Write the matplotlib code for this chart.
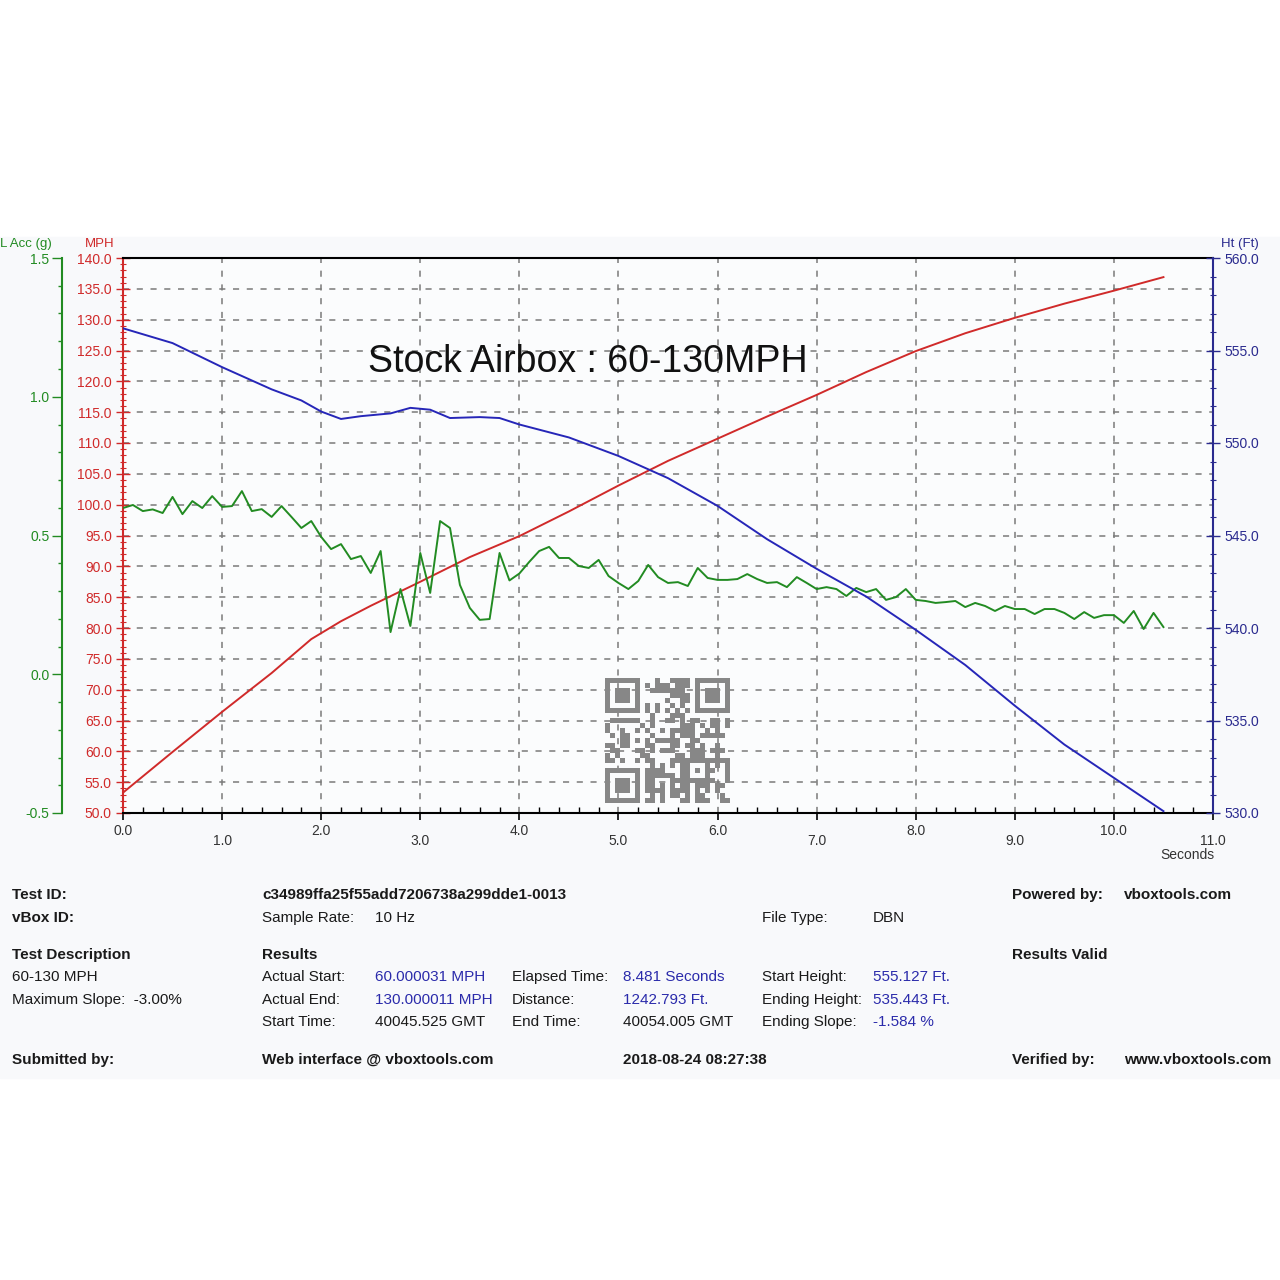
import hashlib
import numpy as np
import matplotlib
matplotlib.use('Agg')
import matplotlib.pyplot as plt
from matplotlib.patches import Rectangle
from matplotlib.ticker import MultipleLocator, FormatStrFormatter

plt.rcParams['font.family'] = ['Liberation Sans', 'DejaVu Sans']

# --- data ---
# speed (MPH)
mph_t = [0.0, 0.5, 1.0, 1.5, 1.9, 2.2, 2.5, 3.0, 3.5, 4.0, 4.5, 5.0, 5.5, 6.0, 6.5,
         7.0, 7.5, 8.0, 8.5, 9.0, 9.5, 10.0, 10.5]
mph = [53.3, 59.9, 66.4, 72.7, 78.2, 81.1, 83.6, 87.5, 91.5, 94.9, 98.9, 103.1, 107.1,
       110.7, 114.3, 117.8, 121.5, 124.9, 127.8, 130.3, 132.6, 134.7, 136.9]

# height (ft)
ht_t = [0.0, 0.5, 1.0, 1.5, 1.8, 2.0, 2.2, 2.4, 2.7, 2.9, 3.1, 3.3, 3.6, 3.8,
        4.0, 4.5, 5.0, 5.5, 6.0, 6.5, 7.0, 7.5, 8.0, 8.5, 9.0, 9.5, 10.0, 10.5]
ht = [556.2, 555.4, 554.1, 552.9, 552.3, 551.7, 551.3, 551.45, 551.6, 551.9,
      551.8, 551.35, 551.4, 551.35, 551.0, 550.3, 549.3, 548.1, 546.6, 544.8,
      543.2, 541.7, 539.9, 538.0, 535.8, 533.7, 531.9, 530.1]

# longitudinal acceleration (g), sampled at 10 Hz
acc = [0.599, 0.610, 0.588, 0.594, 0.581, 0.639, 0.577, 0.624, 0.599, 0.642,
       0.603, 0.606, 0.660, 0.588, 0.595, 0.567, 0.606, 0.567, 0.527, 0.552,
       0.495, 0.451, 0.469, 0.415, 0.426, 0.365, 0.444, 0.152, 0.307, 0.174,
       0.437, 0.293, 0.552, 0.527, 0.322, 0.239, 0.196, 0.199, 0.437, 0.338,
       0.363, 0.405, 0.444, 0.459, 0.419, 0.419, 0.390, 0.383, 0.412, 0.354,
       0.329, 0.307, 0.336, 0.394, 0.350, 0.329, 0.332, 0.318, 0.383, 0.347,
       0.340, 0.340, 0.343, 0.361, 0.343, 0.329, 0.332, 0.314, 0.350, 0.329,
       0.307, 0.314, 0.307, 0.282, 0.311, 0.296, 0.307, 0.268, 0.278, 0.307,
       0.268, 0.264, 0.257, 0.260, 0.264, 0.242, 0.257, 0.246, 0.228, 0.246,
       0.235, 0.235, 0.217, 0.235, 0.235, 0.221, 0.199, 0.224, 0.203, 0.213,
       0.213, 0.185, 0.228, 0.163, 0.221, 0.170]
sample_rate = 10
acc_t = np.arange(len(acc)) / sample_rate

title = "Stock Airbox : 60-130MPH"
test_id = "c34989ffa25f55add7206738a299dde1-0013"

RED = '#d02a2a'
GREEN = '#228b22'
BLUE = '#2626b8'
NAVY = '#2a2a8e'
VAL = '#2b2bab'
TXT = '#1a1a1a'

W = 1280.0
def fx(px):
    return px / W
def fy(py):
    return 1 - py / W

fig = plt.figure(figsize=(12.8, 12.8), dpi=100)
fig.patches.append(Rectangle((0, fy(1078)), 1, fy(237) - fy(1078),
                             transform=fig.transFigure, color='#f8f9fb', zorder=-10))

ax = fig.add_axes([fx(123), fy(813), fx(1213) - fx(123), fy(258) - fy(813)])
ax.set_facecolor('#fbfcfd')

# MPH axis (main)
ax.plot(mph_t, mph, color=RED, lw=1.4, zorder=3)
ax.set_xlim(0, 11)
ax.set_ylim(50, 140)
ax.yaxis.set_major_locator(MultipleLocator(5))
ax.yaxis.set_minor_locator(MultipleLocator(1))
ax.yaxis.set_major_formatter(FormatStrFormatter('%.1f'))
ax.tick_params(axis='y', which='major', direction='inout', length=10, width=1,
               color=RED, labelcolor=RED, labelsize=10, pad=3)
ax.tick_params(axis='y', which='minor', direction='inout', length=5, width=0.8,
               color=RED)
ax.spines['left'].set_color(RED)
ax.spines['left'].set_linewidth(1.5)
ax.spines['top'].set_color('black')
ax.spines['bottom'].set_color('black')
ax.spines['top'].set_linewidth(1.5)
ax.spines['bottom'].set_linewidth(1.5)
ax.spines['right'].set_visible(False)

ax.xaxis.set_major_locator(MultipleLocator(1))
ax.xaxis.set_minor_locator(MultipleLocator(0.2))
ax.set_xticklabels([])
ax.tick_params(axis='x', which='major', direction='out', length=5, width=1.2,
               color='black')
ax.tick_params(axis='x', which='minor', direction='in', length=4, width=1,
               color='black')
for i in range(12):
    ax.text(i, -0.033 if i % 2 == 0 else -0.050, '%.1f' % i,
            transform=ax.get_xaxis_transform(), ha='center', va='center',
            fontsize=10, color='#333333')
ax.grid(which='major', linestyle=(0, (4, 5)), color='#7a7a7a', lw=1.1)

# acceleration axis (far left)
ax_g = ax.twinx()
ax_g.plot(acc_t, acc, color=GREEN, lw=1.4, zorder=3)
ax_g.set_ylim(-0.5, 1.5)
ax_g.yaxis.set_ticks_position('left')
ax_g.spines['left'].set_position(('axes', -0.056))
ax_g.spines['left'].set_visible(True)
ax_g.spines['left'].set_color(GREEN)
ax_g.spines['left'].set_linewidth(1.5)
for s in ['right', 'top', 'bottom']:
    ax_g.spines[s].set_visible(False)
ax_g.yaxis.set_major_locator(MultipleLocator(0.5))
ax_g.yaxis.set_minor_locator(MultipleLocator(0.1))
ax_g.yaxis.set_major_formatter(FormatStrFormatter('%.1f'))
ax_g.tick_params(axis='y', which='major', direction='out', length=7, width=1,
                 color=GREEN, labelcolor=GREEN, labelsize=10, pad=2)
ax_g.tick_params(axis='y', which='minor', direction='out', length=3, width=1,
                 color=GREEN)

# height axis (right)
ax_h = ax.twinx()
ax_h.plot(ht_t, ht, color=BLUE, lw=1.4, zorder=3)
ax_h.set_ylim(530, 560)
for s in ['left', 'top', 'bottom']:
    ax_h.spines[s].set_visible(False)
ax_h.spines['right'].set_color(NAVY)
ax_h.spines['right'].set_linewidth(1.5)
ax_h.yaxis.set_major_locator(MultipleLocator(5))
ax_h.yaxis.set_minor_locator(MultipleLocator(1))
ax_h.yaxis.set_major_formatter(FormatStrFormatter('%.1f'))
ax_h.tick_params(axis='y', which='major', direction='inout', length=10, width=1,
                 color=NAVY, labelcolor=NAVY, labelsize=10, pad=3)
ax_h.tick_params(axis='y', which='minor', direction='inout', length=5, width=0.8,
                 color=NAVY)

# axis titles
fig.text(fx(0), fy(244), 'L Acc (g)', color=GREEN, fontsize=9.5, va='center')
fig.text(fx(100), fy(244), 'MPH', color=RED, fontsize=9.5, va='center', ha='center')
fig.text(fx(1240), fy(244), 'Ht (Ft)', color=NAVY, fontsize=9.5, va='center', ha='center')
fig.text(fx(1187), fy(855), 'Seconds', color='#333333', fontsize=10, va='center', ha='center')

fig.text(fx(588), fy(362), title, fontsize=27, ha='center', va='center', color='#111111')

# QR code block (pattern derived from the test id)
n = 25
bits = ''.join(format(b, '08b') for b in hashlib.sha512((test_id * 3).encode()).digest())
bits += ''.join(format(b, '08b') for b in hashlib.sha512(test_id.encode()).digest())
qr = np.array([int(bits[i % len(bits)]) for i in range(n * n)]).reshape(n, n)
def finder(r, c):
    qr[max(r - 1, 0):r + 8, max(c - 1, 0):c + 8] = 0
    qr[r:r + 7, c:c + 7] = 1
    qr[r + 1:r + 6, c + 1:c + 6] = 0
    qr[r + 2:r + 5, c + 2:c + 5] = 1
finder(0, 0)
finder(0, 18)
finder(18, 0)
qr[16:21, 16:21] = 1
qr[17:20, 17:20] = 0
qr[18, 18] = 1
qr[6, 8:17] = [1, 0] * 4 + [1]
qr[8:17, 6] = [1, 0] * 4 + [1]
rgba = np.zeros((n, n, 4))
rgba[qr == 1] = [0.53, 0.53, 0.53, 1.0]
ax_qr = fig.add_axes([fx(605), fy(803), fx(125), fx(125)], zorder=5)
ax_qr.imshow(rgba, interpolation='nearest')
ax_qr.axis('off')

# info table
def t(x, y, s, bold=False, color=TXT):
    fig.text(fx(x), fy(y), s, fontsize=11, va='center', ha='left', color=color,
             fontweight='bold' if bold else 'normal')

t(12, 895, 'Test ID:', True)
t(12, 918, 'vBox ID:', True)
t(262, 895, test_id, True)
t(262, 918, 'Sample Rate:')
t(375, 918, '10 Hz')
t(762, 918, 'File Type:')
t(873, 918, 'DBN')
t(1012, 895, 'Powered by:', True)
t(1124, 895, 'vboxtools.com', True)

t(12, 955, 'Test Description', True)
t(12, 977, '60-130 MPH')
t(12, 1000, 'Maximum Slope:  -3.00%')
t(262, 955, 'Results', True)
t(1012, 955, 'Results Valid', True)

t(262, 977, 'Actual Start:')
t(375, 977, '60.000031 MPH', color=VAL)
t(512, 977, 'Elapsed Time:')
t(623, 977, '8.481 Seconds', color=VAL)
t(762, 977, 'Start Height:')
t(873, 977, '555.127 Ft.', color=VAL)

t(262, 1000, 'Actual End:')
t(375, 1000, '130.000011 MPH', color=VAL)
t(512, 1000, 'Distance:')
t(623, 1000, '1242.793 Ft.', color=VAL)
t(762, 1000, 'Ending Height:')
t(873, 1000, '535.443 Ft.', color=VAL)

t(262, 1022, 'Start Time:')
t(375, 1022, '40045.525 GMT')
t(512, 1022, 'End Time:')
t(623, 1022, '40054.005 GMT')
t(762, 1022, 'Ending Slope:')
t(873, 1022, '-1.584 %', color=VAL)

t(12, 1060, 'Submitted by:', True)
t(262, 1060, 'Web interface @ vboxtools.com', True)
t(623, 1060, '2018-08-24 08:27:38', True)
t(1012, 1060, 'Verified by:', True)
t(1124, 1060, 'www.vboxtools.com', True)

fig.savefig('out.png', dpi=100)
